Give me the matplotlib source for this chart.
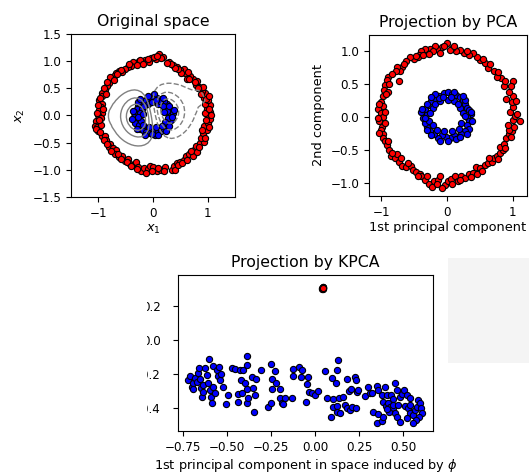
import numpy as np
import matplotlib
matplotlib.use("Agg")
import matplotlib.pyplot as plt
from matplotlib.patches import Rectangle

# ---------------- data: original space ----------------
orig_red_x = [0.11, 0.19, 0.05, -0.03, -0.07, -0.14, -0.20, -0.26, -0.32, -0.37, -0.40, -0.46, -0.52, -0.56,
              -0.62, -0.68, -0.71, -0.75, -0.79, -0.81, -0.85, -0.88, -0.93, -0.94, -0.98, -0.93, -0.96, -0.99,
              -0.94, -1.00, -0.96, -1.04, -1.07, -1.02, -0.95, -1.00, -0.94, -0.88, -0.86, -0.79, -0.81, -0.74,
              -0.68, -0.69, -0.62, -0.56, -0.52, -0.46, -0.43, -0.36, -0.32, -0.28, -0.22, -0.17, -0.09, -0.05,
              0.00, 0.07, 0.15, 0.22, 0.34, 0.38, 0.43, 0.49, 0.56, 0.60, 0.65, 0.73, 0.75, 0.79, 0.86, 0.93,
              0.88, 0.91, 0.98, 0.94, 1.00, 1.05, 1.00, 1.05, 0.99, 1.04, 0.96, 1.00, 0.93, 0.96, 0.90, 0.85,
              0.79, 0.81, 0.74, 0.68, 0.62, 0.59, 0.56, 0.49, 0.44, 0.37, 0.30,
              0.02, -0.10, -0.23, -0.30, -0.43, -0.58, -0.65, -0.72, -0.84, -0.90, -0.86, -0.97, -1.00, -0.92,
              -1.02, -0.98, -1.05, -0.97, -0.90, -0.84, -0.76, -0.64, -0.58, -0.48, -0.40, -0.30, -0.13, -0.02,
              0.10, 0.20, 0.40, 0.46, 0.53, 0.62, 0.70, 0.80, 0.84, 0.95, 0.90, 1.02, 0.97, 1.06, 0.95, 1.03,
              0.97, 1.02, 0.88, 0.92, 0.82, 0.76, 0.66, 0.64, 0.52, 0.46, 0.40, 0.33, 0.25, 0.15, 0.08, -0.18]
orig_red_y = [1.13, 1.07, 1.04, 1.05, 0.99, 1.02, 0.98, 1.00, 0.96, 0.99, 0.91, 0.90, 0.86, 0.80,
              0.82, 0.79, 0.73, 0.67, 0.70, 0.60, 0.54, 0.47, 0.42, 0.36, 0.28, 0.22, 0.16, 0.10,
              0.05, 0.00, -0.04, -0.10, -0.19, -0.21, -0.17, -0.29, -0.38, -0.37, -0.46, -0.52, -0.58, -0.60,
              -0.64, -0.70, -0.77, -0.74, -0.83, -0.80, -0.88, -0.91, -0.85, -0.95, -1.03, -0.97, -0.99, -0.93,
              -0.95, -1.03, -1.00, -0.95, -1.00, -0.93, -0.88, -0.85, -0.81, -0.75, -0.70, -0.74, -0.63, -0.57,
              -0.51, -0.48, -0.41, -0.32, -0.26, -0.20, -0.14, -0.06, 0.00, 0.06, 0.12, 0.19, 0.22, 0.28,
              0.33, 0.41, 0.45, 0.53, 0.57, 0.64, 0.68, 0.73, 0.67, 0.79, 0.86, 0.84, 0.90, 0.93, 0.98,
              1.08, 1.04, 1.03, 0.93, 0.95, 0.84, 0.76, 0.66, 0.62, 0.50, 0.39, 0.33, 0.20, 0.12,
              0.04, -0.08, -0.25, -0.30, -0.45, -0.52, -0.66, -0.71, -0.80, -0.86, -0.93, -0.99, -1.05, -1.02,
              -0.97, -1.02, -1.00, -0.92, -0.88, -0.82, -0.66, -0.68, -0.58, -0.42, -0.26, -0.22, -0.08, 0.00,
              0.05, 0.12, 0.30, 0.36, 0.40, 0.52, 0.50, 0.62, 0.68, 0.80, 0.78, 0.86, 0.88, 0.95, 0.97, 1.06, 1.10, 0.95]
orig_blue_x = [0.30, 0.32, 0.28, 0.25, 0.20, 0.14, 0.08, 0.02, 0.00, -0.06, -0.12, -0.17, -0.22, -0.27, -0.30,
               -0.34, -0.30, -0.35, -0.30, -0.33, -0.26, -0.24, -0.18, -0.12, -0.06, 0.00, 0.04, 0.09, 0.14,
               0.20, 0.24, 0.28, 0.33, 0.27, 0.36, 0.22, 0.18, -0.20, -0.24, -0.22, -0.10, 0.10, 0.05, -0.08,
               0.22, 0.26, -0.28, -0.16, -0.18, 0.16, 0.12, -0.02, 0.30, 0.34, -0.36, -0.28, -0.10, 0.06, 0.18,
               0.24, -0.02, -0.14, -0.30, -0.38, 0.38, 0.30, 0.10, -0.24, 0.20, -0.18]
orig_blue_y = [0.02, 0.10, 0.16, 0.22, 0.26, 0.30, 0.33, 0.40, 0.30, 0.33, 0.29, 0.27, 0.22, 0.17, 0.12,
               0.06, 0.02, -0.02, -0.08, -0.14, -0.18, -0.25, -0.27, -0.30, -0.33, -0.28, -0.35, -0.31, -0.28,
               -0.24, -0.20, -0.14, -0.08, -0.05, 0.04, 0.12, 0.18, 0.12, 0.04, -0.10, 0.22, 0.22, -0.22, -0.22,
               -0.12, 0.08, -0.02, 0.18, -0.18, -0.20, 0.26, 0.24, 0.18, -0.02, 0.08, 0.24, 0.36, 0.28, 0.32,
               -0.28, -0.34, -0.36, -0.24, -0.06, 0.10, -0.20, -0.36, 0.30, 0.06, 0.02]

# ---------------- data: PCA projection ----------------
pca_red_x = [0.00, -0.08, -0.15, -0.18, -0.26, -0.31, -0.34, -0.39, -0.42, -0.45, -0.51, -0.57, -0.62, -0.69,
             -0.72, -0.76, -0.74, -0.78, -0.90, -0.92, -0.95, -0.96, -0.90, -0.97, -1.01, -0.98, -1.05, -1.01,
             -0.98, -1.03, -0.99, -1.01, -0.97, -0.98, -0.95, -0.92, -0.88, -0.86, -0.79, -0.76, -0.73, -0.68,
             -0.63, -0.55, -0.52, -0.47, -0.41, -0.39, -0.34, -0.28, -0.23, -0.20, -0.13, -0.10, -0.03, 0.01,
             0.06, 0.12, 0.16, 0.22, 0.27, 0.33, 0.40, 0.46, 0.44, 0.50, 0.58, 0.63, 0.68, 0.72, 0.76, 0.81,
             0.85, 0.81, 0.87, 0.90, 0.95, 0.99, 0.94, 1.02, 1.00, 1.11, 1.03, 0.96, 1.00, 0.99, 0.90, 1.01,
             0.94, 1.00, 0.87, 0.83, 0.76, 0.71, 0.63, 0.58, 0.51, 0.45, 0.39, 0.33, 0.26, 0.20, 0.14, 0.07,
             0.04, -0.11,
             -0.05, -0.22, -0.36, -0.48, -0.66, -0.84, -0.88, -0.93, -1.04, -0.95, -1.06, -0.94, -1.04, -0.90,
             -0.84, -0.70, -0.60, -0.45, -0.30, -0.16, -0.07, 0.08, 0.20, 0.36, 0.54, 0.64, 0.78, 0.88, 0.98,
             0.93, 1.07, 1.05, 0.97, 0.88, 0.78, 0.66, 0.55, 0.30, 0.10, -0.28]
pca_red_y = [1.12, 1.06, 1.03, 1.07, 1.03, 0.97, 1.03, 0.99, 0.94, 0.90, 0.87, 0.91, 0.85, 0.76,
             0.70, 0.75, 0.54, 0.69, 0.61, 0.56, 0.48, 0.41, 0.38, 0.31, 0.23, 0.17, 0.12, 0.06,
             0.00, -0.07, -0.15, -0.20, -0.26, -0.32, -0.37, -0.42, -0.50, -0.60, -0.63, -0.56, -0.68, -0.75,
             -0.76, -0.74, -0.80, -0.84, -0.86, -0.90, -0.95, -1.02, -1.06, -0.98, -0.96, -0.90, -1.03, -0.98,
             -0.94, -0.90, -0.98, -0.90, -0.93, -0.86, -0.85, -0.86, -0.76, -0.78, -0.73, -0.70, -0.68, -0.63,
             -0.59, -0.55, -0.50, -0.45, -0.41, -0.32, -0.26, -0.22, -0.20, -0.15, -0.05, -0.06, 0.01, 0.08,
             0.15, 0.22, 0.27, 0.31, 0.38, 0.54, 0.46, 0.59, 0.61, 0.69, 0.74, 0.81, 0.86, 0.91, 0.96, 0.94,
             0.97, 1.02, 0.99, 1.04, 1.01, 0.96,
             1.08, 1.00, 0.93, 0.92, 0.80, 0.65, 0.50, 0.34, 0.20, 0.08, -0.02, -0.10, -0.24, -0.36,
             -0.55, -0.62, -0.70, -0.90, -0.90, -1.02, -1.08, -1.02, -0.96, -0.91, -0.82, -0.62, -0.64, -0.48, -0.30,
             -0.12, 0.04, 0.24, 0.46, 0.55, 0.68, 0.80, 0.88, 1.00, 1.07, 0.95]
pca_blue_x = [-0.30, -0.33, -0.28, -0.24, -0.18, -0.12, -0.05, 0.02, 0.08, 0.14, 0.20, 0.25, 0.28, 0.30, 0.34,
              0.36, 0.30, 0.34, 0.30, 0.33, 0.28, 0.22, 0.16, 0.10, 0.04, -0.02, -0.08, -0.14, -0.20, -0.26,
              -0.30, -0.34, -0.28, -0.36, -0.40, -0.22, -0.18, 0.20, 0.24, 0.22, 0.10, -0.10, -0.05, 0.08,
              -0.22, -0.26, 0.28, 0.16, 0.18, -0.16, -0.12, 0.02, -0.30, -0.34, 0.36, 0.28, 0.10, -0.06, -0.18,
              -0.24, 0.02, 0.14, 0.30, 0.38, -0.38, -0.30, -0.10, 0.24, 0.06, -0.24, 0.20]
pca_blue_y = [0.04, 0.12, 0.18, 0.24, 0.28, 0.32, 0.36, 0.38, 0.34, 0.33, 0.30, 0.26, 0.20, 0.14, 0.10,
              0.04, 0.00, -0.06, -0.12, -0.18, -0.22, -0.26, -0.30, -0.28, -0.32, -0.30, -0.28, -0.32, -0.26,
              -0.22, -0.16, -0.10, -0.06, -0.02, 0.08, 0.14, 0.20, 0.14, 0.06, -0.10, 0.24, 0.24, -0.22, -0.22,
              -0.12, 0.06, 0.02, 0.20, -0.18, -0.20, 0.28, 0.26, 0.20, -0.02, 0.08, 0.26, 0.38, 0.30, 0.34,
              -0.28, -0.36, -0.34, -0.26, -0.06, 0.12, -0.20, -0.36, 0.32, 0.30, 0.30, -0.30]

# ---------------- data: KPCA projection ----------------
kpca_red_x = [0.040, 0.044, 0.047, 0.043, 0.046, 0.042, 0.045, 0.048]
kpca_red_y = [0.300, 0.304, 0.307, 0.309, 0.302, 0.306, 0.299, 0.305]
kpca_blue_x = [-0.720, -0.710, -0.701, -0.691, -0.695, -0.682, -0.672, -0.663, -0.657, -0.655, -0.650, -0.644,
               -0.634, -0.634, -0.625, -0.615, -0.606, -0.600, -0.597, -0.593, -0.587, -0.581, -0.578, -0.568,
               -0.559, -0.549, -0.544, -0.540, -0.536, -0.525, -0.506, -0.492, -0.474, -0.455, -0.436, -0.436,
               -0.426, -0.422, -0.417, -0.407, -0.398, -0.388, -0.384, -0.384, -0.384, -0.379, -0.360, -0.350,
               -0.347, -0.341, -0.336, -0.309, -0.265, -0.250, -0.250, -0.246, -0.246, -0.227, -0.222, -0.199,
               -0.199, -0.189, -0.180, -0.170, -0.133, -0.127, -0.123, -0.089, -0.081, -0.076, -0.051, -0.044,
               -0.039, -0.032,
               -0.019, 0.000, 0.019, 0.057, 0.066, 0.095, 0.100, 0.119, 0.127, 0.133, 0.138, 0.157, 0.104,
               0.123, 0.127, 0.142, 0.089, 0.170, 0.180, 0.199, 0.208, 0.180, 0.195, 0.203, 0.227, 0.233,
               0.237, 0.246, 0.233, 0.284, 0.303, 0.312, 0.322, 0.354, 0.360, 0.379, 0.398, 0.407, 0.430,
               0.445, 0.455, 0.464, 0.483, 0.492, 0.506, 0.521, 0.540, 0.388, 0.403, 0.417, 0.426, 0.441,
               0.455, 0.464, 0.483, 0.422, 0.445, 0.473, 0.511, 0.530, 0.540, 0.559, 0.568, 0.578, 0.587,
               0.597, 0.600, 0.606, 0.593, 0.574, 0.559, 0.521, 0.328, 0.360, 0.350, 0.379, 0.388, 0.411, 0.540]
kpca_blue_y = [-0.235, -0.212, -0.275, -0.255, -0.290, -0.225, -0.245, -0.196, -0.167, -0.231, -0.284, -0.333,
               -0.265, -0.304, -0.167, -0.206, -0.255, -0.114, -0.294, -0.337, -0.369, -0.153, -0.275, -0.314,
               -0.176, -0.212, -0.157, -0.235, -0.200, -0.275, -0.376, -0.324, -0.167, -0.173, -0.318, -0.363,
               -0.176, -0.235, -0.310, -0.176, -0.255, -0.094, -0.147, -0.290, -0.373, -0.341, -0.220, -0.284,
               -0.422, -0.324, -0.231, -0.180, -0.392, -0.373, -0.141, -0.231, -0.290, -0.186, -0.255, -0.290,
               -0.343, -0.369, -0.376, -0.343, -0.343, -0.173, -0.212, -0.161, -0.220, -0.176, -0.363, -0.259,
               -0.220, -0.304,
               -0.314, -0.324, -0.298, -0.186, -0.343, -0.225, -0.349, -0.255, -0.180, -0.118, -0.343, -0.337,
               -0.392, -0.388, -0.422, -0.431, -0.455, -0.382, -0.402, -0.412, -0.392, -0.231, -0.298, -0.290,
               -0.216, -0.235, -0.304, -0.294, -0.402, -0.329, -0.278, -0.314, -0.310, -0.271, -0.294, -0.324,
               -0.278, -0.324, -0.324, -0.349, -0.255, -0.294, -0.333, -0.318, -0.294, -0.324, -0.343, -0.363,
               -0.388, -0.369, -0.396, -0.402, -0.431, -0.451, -0.480, -0.422, -0.382, -0.382, -0.388, -0.402,
               -0.431, -0.441, -0.412, -0.392, -0.353, -0.373, -0.402, -0.427, -0.451, -0.471, -0.490, -0.461,
               -0.422, -0.435, -0.490, -0.475, -0.451, -0.408, -0.382]

# ---------------- kernel PCA field for the contour (computed from the original points) ----------------
gamma = 10.0
Xtr = np.column_stack([np.r_[orig_red_x, orig_blue_x], np.r_[orig_red_y, orig_blue_y]])
n_red = len(orig_red_x)


def rbf(A, B):
    d = ((A[:, None, :] - B[None, :, :]) ** 2).sum(-1)
    return np.exp(-gamma * d)


K = rbf(Xtr, Xtr)
Kcol = K.mean(axis=0)
Kall = K.mean()
Kc = K - Kcol[None, :] - Kcol[:, None] + Kall
w, v = np.linalg.eigh(Kc)
order = np.argsort(w)[::-1][:8]


def project(P, k):
    Kp = rbf(P, Xtr)
    Kpc = Kp - Kcol[None, :] - Kp.mean(axis=1)[:, None] + Kall
    return Kpc @ (v[:, k] / np.sqrt(w[k]))


# the component that varies across the inner circle from left to right (dipole)
inner = Xtr[n_red:]
best = max(order, key=lambda k: abs(np.corrcoef(project(inner, k), inner[:, 0])[0, 1]))
g = np.linspace(-1.5, 1.5, 50)
G1, G2 = np.meshgrid(g, g)
Gp = np.column_stack([G1.ravel(), G2.ravel()])
Z = project(Gp, best).reshape(G1.shape)
Z = Z - project(np.array([[6.0, 6.0]]), best)[0]
if project(np.array([[0.3, 0.0]]), best)[0] > project(np.array([[-0.3, 0.0]]), best)[0]:
    Z = -Z
zmax = np.abs(Z).max()
fracs = [0.2, 0.45, 0.7]

# ---------------- figure ----------------
W, H = 529, 474
fig = plt.figure(figsize=(W / 100, H / 100), dpi=100)


def box(l, t, r, b):
    return [l / W, 1 - b / H, (r - l) / W, (b - t) / H]


TITLE = 11.3
LABEL = 9.3
TICK = 8.6
S = 20

ax1 = fig.add_axes(box(71, 34, 235, 197))
ax1.contour(G1, G2, Z, levels=sorted([-f * zmax for f in fracs] + [f * zmax for f in fracs]),
            colors="grey", linewidths=1, origin="lower")
ax1.scatter(orig_red_x, orig_red_y, c="red", s=S, edgecolor="k", linewidths=0.8)
ax1.scatter(orig_blue_x, orig_blue_y, c="blue", s=S, edgecolor="k", linewidths=0.8)
ax1.set_xlim(-1.5, 1.5)
ax1.set_ylim(-1.5, 1.5)
ax1.set_xticks([-1, 0, 1])
ax1.set_yticks([-1.5, -1.0, -0.5, 0.0, 0.5, 1.0, 1.5])
ax1.set_title("Original space", fontsize=TITLE)
ax1.set_xlabel("$x_1$", fontsize=LABEL, labelpad=2)
ax1.set_ylabel("$x_2$", fontsize=LABEL)

ax2 = fig.add_axes(box(369, 35, 527, 196))
ax2.scatter(pca_red_x, pca_red_y, c="red", s=S, edgecolor="k", linewidths=0.8)
ax2.scatter(pca_blue_x, pca_blue_y, c="blue", s=S, edgecolor="k", linewidths=0.8)
ax2.set_xlim(-1.19, 1.22)
ax2.set_ylim(-1.20, 1.24)
ax2.set_xticks([-1, 0, 1])
ax2.set_yticks([-1.0, -0.5, 0.0, 0.5, 1.0])
ax2.set_title("Projection by PCA", fontsize=TITLE)
ax2.set_xlabel("1st principal component", fontsize=LABEL, labelpad=2)
ax2.set_ylabel("2nd component", fontsize=LABEL)

ax3 = fig.add_axes(box(178, 275, 433, 431))
ax3.scatter(kpca_red_x, kpca_red_y, c="red", s=S, edgecolor="k", linewidths=0.8)
ax3.scatter(kpca_blue_x, kpca_blue_y, c="blue", s=S, edgecolor="k", linewidths=0.8)
ax3.set_xlim(-0.778, 0.67)
ax3.set_ylim(-0.535, 0.38)
ax3.set_xticks([-0.75, -0.50, -0.25, 0.00, 0.25, 0.50])
ax3.set_yticks([-0.4, -0.2, 0.0, 0.2])
ax3.tick_params(axis="y", pad=9)
ax3.set_title("Projection by KPCA", fontsize=TITLE)
ax3.set_xlabel("1st principal component in space induced by $\\phi$", fontsize=LABEL, labelpad=2)
ax3.set_ylabel("2nd component", fontsize=LABEL)

for ax in (ax1, ax2, ax3):
    ax.tick_params(labelsize=TICK)

# masking / background panels seen in the reference
fig.patches.append(Rectangle((0, 1 - 251 / H), 1, 18 / H, transform=fig.transFigure,
                             facecolor="white", edgecolor="none", zorder=20))
fig.patches.append(Rectangle((0, 0), 147 / W, 1 - 251 / H, transform=fig.transFigure,
                             facecolor="white", edgecolor="none", zorder=20))
fig.patches.append(Rectangle((448 / W, 1 - 363 / H), (W - 448) / W, 105 / H, transform=fig.transFigure,
                             facecolor="#f4f4f4", edgecolor="none", zorder=20))

fig.savefig("out.png", dpi=100)
